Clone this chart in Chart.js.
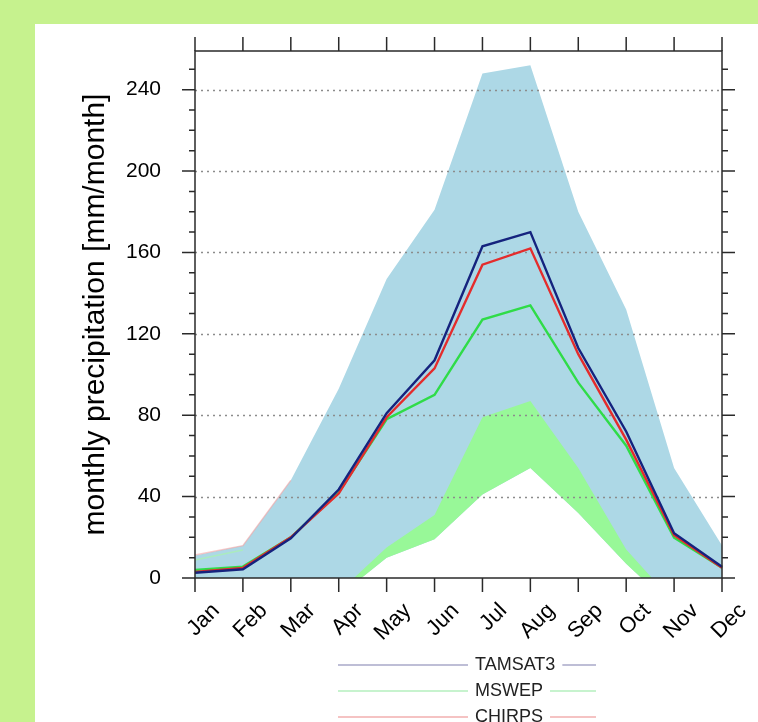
<!DOCTYPE html>
<html>
<head>
<meta charset="utf-8">
<script src="https://cdn.jsdelivr.net/npm/chart.js@4.4.1/dist/chart.umd.min.js"></script>
<style>
  body { margin: 0; background: #c6f28e; width: 758px; height: 722px; overflow: hidden; }
  #panel { position: absolute; left: 35px; top: 24px; width: 723px; height: 698px; background: #fff; }
</style>
</head>
<body>
<div id="panel"><canvas id="myChart" width="723" height="698"></canvas></div>
<script>
// months and y tick labels
const months = ["Jan", "Feb", "Mar", "Apr", "May", "Jun", "Jul", "Aug", "Sep", "Oct", "Nov", "Dec"];
const yTicks = [0, 40, 80, 120, 160, 200, 240];
const yMinorStep = 10;

// mean monthly precipitation per dataset
const tamsat3 = [2.6, 4.3, 19.5, 43.5, 81, 107, 163, 170, 113, 72, 22, 5.5];
const chirps = [3, 5, 20, 41.5, 79, 103, 154, 162, 110, 68, 21, 5];
const mswep = [3.9, 5.6, 20, 42, 78, 90, 127, 134, 96, 65, 19.8, 5];

// shaded ranges (blue upper edge, green band upper/lower)
const blueHigh = [11, 16, 48, 93, 147, 181, 248, 252, 180, 132, 54, 16];
const greenHigh = [-10, -10, -12, -7, 15, 31, 79, 87, 54, 14, -12, -15];
const greenLow = [-15, -15, -18, -9, 10, 19, 41, 54, 32, 7, -15, -20];

// faint edges seen along the top of the band early in the year
const chirpsEdge = [11.3, 15.9, 48, null, null, null, null, null, null, null, null, null];
const mswepEdge = [8.9, 13.8, null, null, null, null, null, null, null, null, null, null];

// legend rows: dataset index and line colour
const legendOrder = [0, 2, 1];
const legendColors = ["#a9a9c9", "#b5efbe", "#f2b0b0"];
const FONT = "'Liberation Sans', Arial, Helvetica, sans-serif";

const frame = {
  id: "frame",
  afterDatasetDraw(chart, args) {
    // dotted grid over the shaded bands, under the lines
    if (args.index !== 5) return;
    const { ctx, chartArea: a, scales: { y } } = chart;
    ctx.save();
    ctx.strokeStyle = "#8c8c8c";
    ctx.lineWidth = 1.5;
    ctx.setLineDash([2, 4]);
    yTicks.forEach(v => {
      if (v === 0) return;
      const py = Math.round(y.getPixelForValue(v)) + 0.5;
      ctx.beginPath();
      ctx.moveTo(a.left, py);
      ctx.lineTo(a.right, py);
      ctx.stroke();
    });
    ctx.restore();
  },
  afterDraw(chart) {
    const { ctx, chartArea: a, scales: { x, y } } = chart;
    ctx.save();
    ctx.strokeStyle = "#2a2a2a";
    ctx.lineWidth = 1.5;
    ctx.strokeRect(a.left, a.top, a.right - a.left, a.bottom - a.top);

    ctx.beginPath();
    months.forEach((m, i) => {
      const px = x.getPixelForValue(i);
      ctx.moveTo(px, a.top); ctx.lineTo(px, a.top - 14);
      ctx.moveTo(px, a.bottom); ctx.lineTo(px, a.bottom + 14);
    });
    for (let v = 0; v <= y.max; v += yMinorStep) {
      const py = y.getPixelForValue(v);
      const len = yTicks.includes(v) ? 13 : 6;
      ctx.moveTo(a.left, py); ctx.lineTo(a.left - len, py);
      ctx.moveTo(a.right, py); ctx.lineTo(a.right + len, py);
    }
    ctx.stroke();

    // legend: line, label, short line
    ctx.font = "18px " + FONT;
    ctx.textBaseline = "middle";
    ctx.lineWidth = 1.5;
    legendOrder.forEach((di, i) => {
      const label = chart.data.datasets[di].label;
      const ly = a.bottom + 87 + i * 26;
      const tx = a.left + 280;
      const tw = ctx.measureText(label).width;
      ctx.strokeStyle = legendColors[i];
      ctx.beginPath();
      ctx.moveTo(a.left + 143, ly); ctx.lineTo(tx - 7, ly);
      ctx.moveTo(tx + tw + 7, ly); ctx.lineTo(a.left + 401, ly);
      ctx.stroke();
      ctx.fillStyle = "#222";
      ctx.fillText(label, tx, ly);
    });
    ctx.restore();
  }
};

function lineSet(label, data, color) {
  return { label, data, borderColor: color, borderWidth: 2.4, pointRadius: 0, fill: false, tension: 0 };
}

const ctx = document.getElementById("myChart").getContext("2d");
const myChart = new Chart(ctx, {
  type: "line",
  data: {
    labels: months,
    datasets: [
      lineSet("TAMSAT3", tamsat3, "#15237e"),
      lineSet("CHIRPS", chirps, "#e42c2c"),
      lineSet("MSWEP", mswep, "#2fdc48"),
      { label: "chirps edge", data: chirpsEdge, borderColor: "rgba(245,165,165,0.6)", borderWidth: 1.5, pointRadius: 0, fill: false },
      { label: "mswep edge", data: mswepEdge, borderColor: "rgba(170,240,180,0.8)", borderWidth: 1.5, pointRadius: 0, fill: false },
      { label: "green low", data: greenLow, borderWidth: 0, borderColor: "rgba(0,0,0,0)", pointRadius: 0, fill: false },
      { label: "green high", data: greenHigh, borderWidth: 0, borderColor: "rgba(0,0,0,0)", pointRadius: 0, fill: 5, backgroundColor: "#98f898" },
      { label: "blue high", data: blueHigh, borderWidth: 0, borderColor: "rgba(0,0,0,0)", pointRadius: 0, fill: 5, backgroundColor: "#add8e6" }
    ]
  },
  options: {
    responsive: false,
    devicePixelRatio: 1,
    animation: false,
    layout: { padding: { left: 0, right: 36, top: 27, bottom: 0 } },
    plugins: { legend: { display: false }, tooltip: { enabled: false } },
    scales: {
      x: {
        type: "category",
        offset: false,
        grid: { display: false, drawTicks: false },
        border: { display: false },
        ticks: {
          minRotation: 45, maxRotation: 45, autoSkip: false,
          padding: 20, labelOffset: 21,
          color: "#000", font: { family: FONT, size: 22 }
        },
        afterFit: s => { s.height = 144; s.paddingLeft = 0; s.paddingRight = 0; }
      },
      y: {
        min: 0, max: 259,
        grid: { display: false, drawTicks: false },
        border: { display: false },
        afterBuildTicks: s => { s.ticks = yTicks.map(v => ({ value: v })); },
        ticks: { padding: 34, color: "#000", font: { family: FONT, size: 21 } },
        title: {
          display: true, text: "monthly precipitation [mm/month]",
          color: "#000", font: { family: FONT, size: 30 }, padding: { top: 43, bottom: 0 }
        },
        afterFit: s => { s.width = 160; s.paddingTop = 0; s.paddingBottom = 0; }
      }
    }
  },
  plugins: [frame]
});
</script>
</body>
</html>
